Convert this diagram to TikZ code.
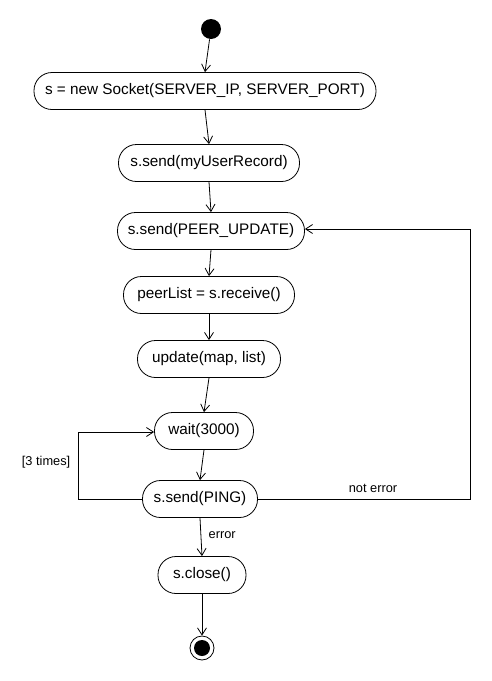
\documentclass[tikz,border=0pt]{standalone}
\usepackage{fontspec}
\setmainfont{Liberation Sans}
\usetikzlibrary{arrows.meta}
\begin{document}
\begin{tikzpicture}[x=1pt,y=-1pt,line width=0.8pt,
  action/.style={draw,rounded corners=18pt,minimum height=37pt,inner sep=0pt,font=\fontsize{15.3}{17}\selectfont},
  flow/.style={-{Straight Barb[length=7pt,width=9pt,line width=0.8pt]}},
  lbl/.style={font=\fontsize{12.8}{15}\selectfont}]
\useasboundingbox (0,0) rectangle (491,681);
% initial and final states
\node[circle,fill=black,minimum size=20pt,inner sep=0pt] (start) at (211,29) {};
\node[circle,draw,minimum size=24pt,inner sep=0pt] (stop) at (202,648) {};
\fill (stop.center) circle (8pt);
% actions
\node[action,minimum width=342pt] (sock) at (205,91) {s = new Socket(SERVER\_IP, SERVER\_PORT)};
\node[action,minimum width=181pt] (rec) at (209,163) {s.send(myUserRecord)};
\node[action,minimum width=187pt] (upd) at (211,231) {s.send(PEER\_UPDATE)};
\node[action,minimum width=171pt] (recv) at (209,295) {peerList = s.receive()};
\node[action,minimum width=143pt] (map) at (209,359) {update(map, list)};
\node[action,minimum width=99pt] (wait) at (204,431) {wait(3000)};
\node[action,minimum width=115pt] (ping) at (200,499) {s.send(PING)};
\node[action,minimum width=88pt] (close) at (202,575) {s.close()};
% loop corners
\coordinate (la) at (78,499);
\coordinate (lb) at (78,432);
\coordinate (ra) at (470,499);
\coordinate (rb) at (470,229);
% transitions
\draw[flow] (start) -- (sock.north);
\draw[flow] (sock.south) -- (rec.north);
\draw[flow] (rec.south) -- (upd.north);
\draw[flow] (upd.south) -- (recv.north);
\draw[flow] (recv.south) -- (map.north);
\draw[flow] (map.south) -- (wait.north);
\draw[flow] (wait.south) -- (ping.north);
\draw[flow] (ping.south) -- node[lbl,right=4pt,pos=0.45] {error} (close.north);
\draw[flow] (close.south) -- (stop.north);
\draw[flow] (ping.west) -- (la) -- (lb) -- (wait.west |- lb);
\draw[flow] (ping.east) -- (ra) -- (rb) -- (upd.east |- rb);
\node[lbl,anchor=east] (times) at (74,462) {[3 times]};
\node[lbl] (noterr) at (373,488) {not error};
\end{tikzpicture}
\end{document}
